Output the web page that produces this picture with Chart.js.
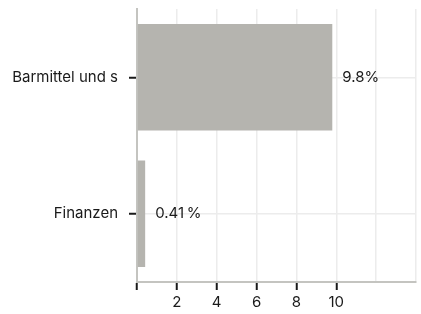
<!DOCTYPE html>
<html>
<head>
<meta charset="utf-8">
<script src="https://cdn.jsdelivr.net/npm/chart.js@4/dist/chart.umd.min.js"></script>
<style>
  body { margin: 0; background: #fff; }
  #wrap { width: 421px; height: 314px; position: relative; }
</style>
</head>
<body>
<div id="wrap"><canvas id="chart"></canvas></div>
<script>
// daten
var kategorien = ["Barmittel und s", "Finanzen"];
var werte = [9.8, 0.41];
var wertLabels = ["9.8%", "0.41\u2009%"];
var xTicks = [2, 4, 6, 8, 10];

var textFarbe = "#1a1a1a";
var gitterFarbe = "#ececec";

// beschriftung rechts neben den balken
var balkenText = {
    id: "balkenText",
    afterDatasetsDraw(chart) {
        var ctx = chart.ctx;
        var meta = chart.getDatasetMeta(0);
        ctx.save();
        ctx.font = "15px Inter";
        ctx.fillStyle = textFarbe;
        ctx.textAlign = "left";
        ctx.textBaseline = "middle";
        meta.data.forEach(function (bar, i) {
            ctx.fillText(wertLabels[i], bar.x + 10, bar.y);
        });
        ctx.restore();
    }
};

Chart.defaults.font.family = "Inter";
Chart.defaults.font.size = 15;
Chart.defaults.color = textFarbe;

new Chart(document.getElementById("chart"), {
    type: "bar",
    data: {
        labels: kategorien,
        datasets: [{
            data: werte,
            backgroundColor: "#b5b4af",
            borderWidth: 0,
            barPercentage: 0.78,
            categoryPercentage: 1
        }]
    },
    options: {
        indexAxis: "y",
        responsive: true,
        maintainAspectRatio: false,
        animation: false,
        layout: { padding: { top: 9, right: 5, bottom: 0, left: 0 } },
        plugins: { legend: { display: false }, tooltip: { enabled: false } },
        scales: {
            x: {
                min: 0,
                max: 14,
                afterFit: function (s) { s.paddingRight = 0; s.paddingLeft = 0; },
                ticks: {
                    stepSize: 2,
                    padding: 3,
                    maxRotation: 0,
                    font: { size: 15 },
                    callback: function (v) { return xTicks.indexOf(v) >= 0 ? v : ""; }
                },
                grid: {
                    color: gitterFarbe,
                    tickColor: function (c) { return c.tick && c.tick.value <= 10 ? textFarbe : "transparent"; },
                    tickLength: 8,
                    tickWidth: 2,
                    lineWidth: 1.5
                },
                border: { color: "#c4c4c0", width: 2 }
            },
            y: {
                afterFit: function (s) { s.width = 137; s.paddingTop = 0; s.paddingBottom = 0; },
                ticks: { padding: 11, font: { size: 15 } },
                grid: {
                    offset: false,
                    color: gitterFarbe,
                    tickColor: textFarbe,
                    tickLength: 8,
                    tickWidth: 2,
                    lineWidth: 1.5
                },
                border: { color: "#c4c4c0", width: 2 }
            }
        }
    },
    plugins: [balkenText]
});
</script>
</body>
</html>
